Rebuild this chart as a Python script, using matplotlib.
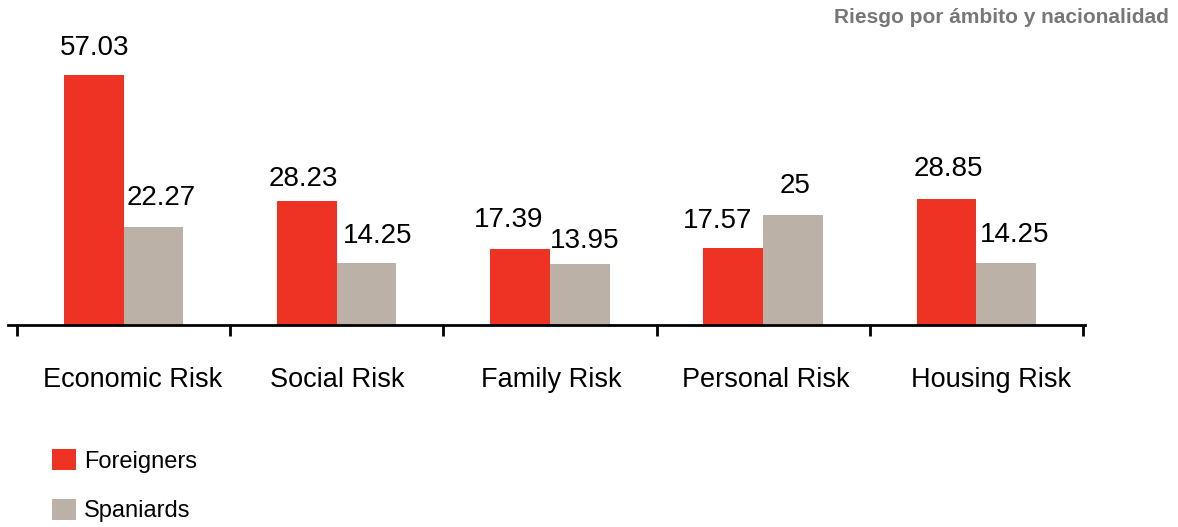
import matplotlib.pyplot as plt
import matplotlib.transforms as mtransforms
import numpy as np

categories = ["Economic Risk", "Social Risk", "Family Risk", "Personal Risk", "Housing Risk"]
foreigners = [57.03, 28.23, 17.39, 17.57, 28.85]
spaniards = [22.27, 14.25, 13.95, 25, 14.25]

red = "#EE3224"
grey = "#BBB1A6"

# value labels are nudged apart so neighbouring numbers don't collide (pixels)
shift_foreign = [(1, 20), (-4, 15), (-11, 22), (-16, 20), (2, 23)]
shift_spain = [(8, 22), (11, 20), (5, 16), (2, 22), (9, 21)]
shift_cat = [9, 1, 1, 3, 15]

plt.rcParams['font.family'] = ['Liberation Sans', 'DejaVu Sans']

fig = plt.figure(figsize=(11.78, 5.27), dpi=100)
ax = fig.add_axes([8 / 1178, 202 / 527, 1077 / 1178, 263 / 527])

x = np.arange(len(categories))
w = 0.28
b1 = ax.bar(x - w / 2, foreigners, w, color=red, label="Foreigners")
b2 = ax.bar(x + w / 2, spaniards, w, color=grey, label="Spaniards")

for xs, vals, shifts in [(x - w / 2, foreigners, shift_foreign), (x + w / 2, spaniards, shift_spain)]:
    for xi, v, (dx, dy) in zip(xs, vals, shifts):
        ax.annotate(f"{v:g}", (xi, v), xytext=(dx, dy), textcoords="offset pixels",
                    ha="center", va="baseline", fontsize=20)

ax.set_xlim(-0.542, 4.51)
ax.set_ylim(0, 60)
for s in ["top", "right", "left"]:
    ax.spines[s].set_visible(False)
ax.spines["bottom"].set_linewidth(2)
ax.set_yticks([])
ax.set_xticks(np.arange(len(categories) + 1) - 0.5)
ax.set_xticklabels([])
ax.tick_params(axis="x", direction="out", length=8, width=2)

# category names sit between the tick marks
trans = mtransforms.blended_transform_factory(ax.transData, ax.transAxes)
for i, c in enumerate(categories):
    ax.annotate(c, (i, -0.21), xycoords=trans, xytext=(shift_cat[i], 0),
                textcoords="offset pixels", ha="center", va="center", fontsize=19.5)

fig.text(0.992, 0.966, "Riesgo por ámbito y nacionalidad", ha="right", va="center",
         fontsize=15, fontweight="bold", color="#777777")

fig.legend(handles=[b1, b2], loc="upper left", bbox_to_anchor=(52 / 1178, 78 / 527),
           bbox_transform=fig.transFigure, frameon=False, fontsize=17,
           handlelength=1.0, handleheight=1.0, labelspacing=1.1, handletextpad=0.35,
           borderpad=0, borderaxespad=0)

fig.savefig("out.png", dpi=100)
